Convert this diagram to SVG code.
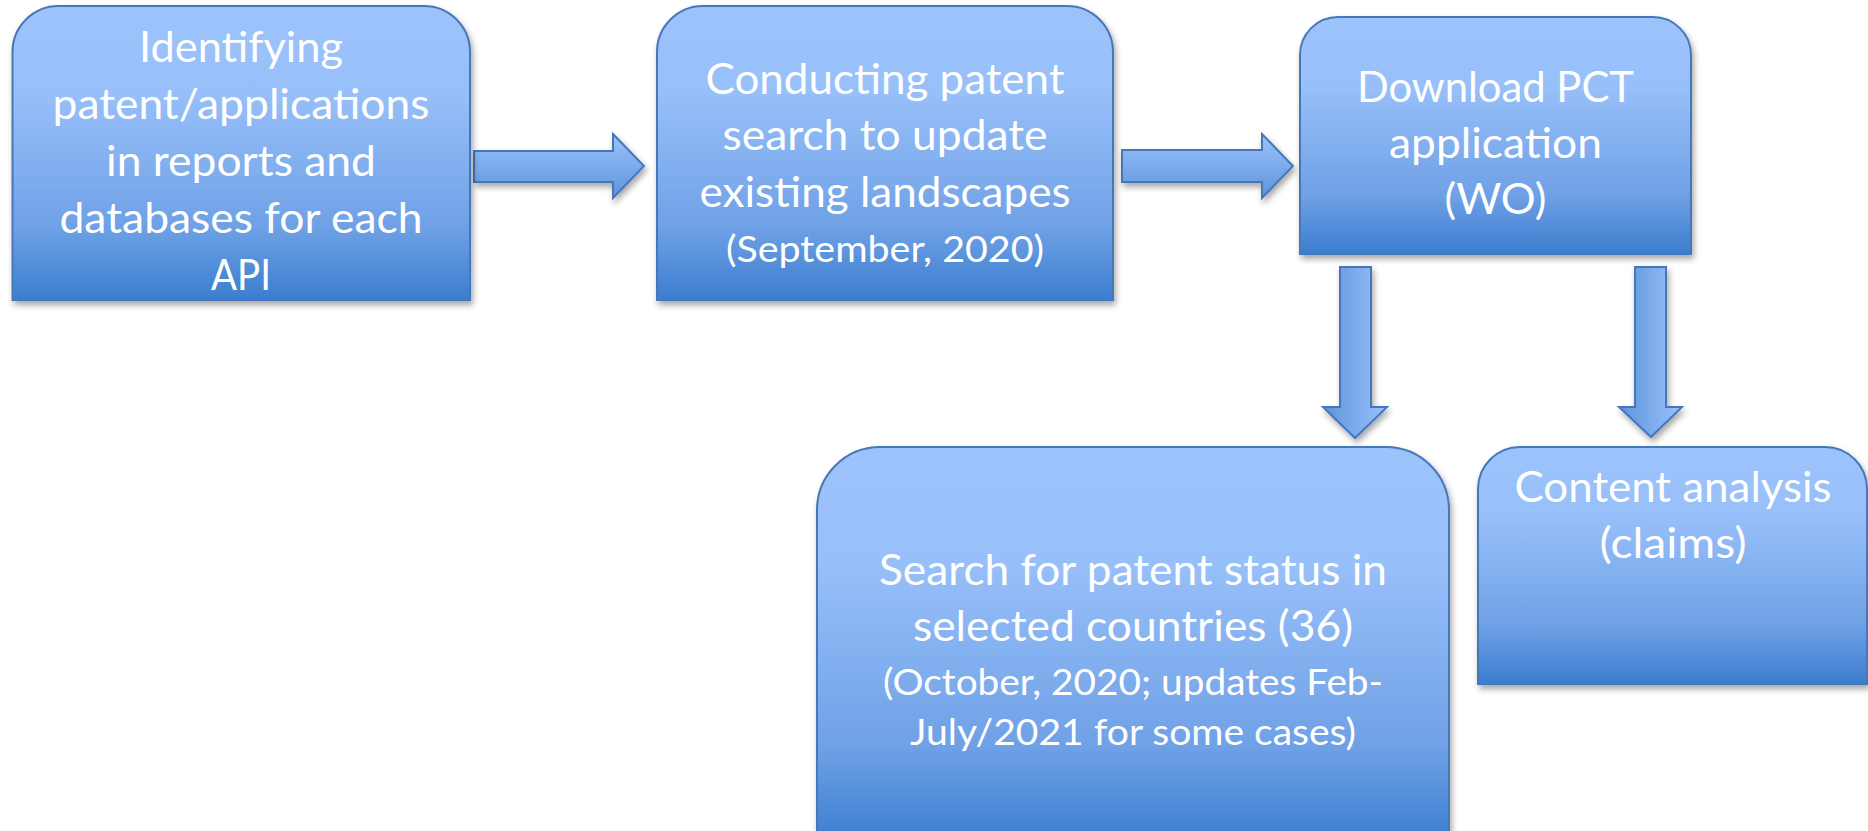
<svg xmlns="http://www.w3.org/2000/svg" width="1868" height="831" viewBox="0 0 1868 831">
  <defs>
    <linearGradient id="boxGrad" x1="0" y1="0" x2="0" y2="1">
      <stop offset="0" stop-color="#9dc3fc"/>
      <stop offset="0.3" stop-color="#97bff9"/>
      <stop offset="0.75" stop-color="#6fa1e6"/>
      <stop offset="1" stop-color="#3b7dce"/>
    </linearGradient>
    <linearGradient id="arrowH" x1="0" y1="0" x2="0" y2="1">
      <stop offset="0" stop-color="#9cc2fb"/>
      <stop offset="1" stop-color="#5d93db"/>
    </linearGradient>
    <linearGradient id="arrowV" x1="1" y1="0" x2="0" y2="0">
      <stop offset="0" stop-color="#9cc2fb"/>
      <stop offset="1" stop-color="#5d93db"/>
    </linearGradient>
    <filter id="shadow" x="-10%" y="-10%" width="130%" height="130%">
      <feDropShadow dx="2" dy="4" stdDeviation="3" flood-color="#000" flood-opacity="0.35"/>
    </filter>
  </defs>
  <style>
    .box { fill: url(#boxGrad); stroke: #4677b8; stroke-width: 2; filter: url(#shadow); }
    .arrH { fill: url(#arrowH); stroke: #4677b8; stroke-width: 2; stroke-linejoin: miter; filter: url(#shadow); }
    .arrV { fill: url(#arrowV); stroke: #4677b8; stroke-width: 2; stroke-linejoin: miter; filter: url(#shadow); }
    .t { font-family: Lato, "Open Sans", "Liberation Sans", sans-serif; font-size: 42px; fill: #ffffff; text-anchor: middle; }
    .s { font-family: Lato, "Open Sans", "Liberation Sans", sans-serif; font-size: 37.5px; fill: #ffffff; text-anchor: middle; }
  </style>
  <rect width="1868" height="831" fill="#ffffff"/>

  <g id="connectors">
    <path class="arrH" d="M474,151 H613 V134 L644,166 L613,198 V182 H474 Z"/>
    <path class="arrH" d="M1122,150 H1262 V134 L1293,166 L1262,198 V182 H1122 Z"/>
    <path class="arrV" d="M1340,267 H1371 V407 H1387 L1355,438 L1323,407 H1340 Z"/>
    <path class="arrV" d="M1635,267 H1666 V407 H1682 L1651,437 L1619,407 H1635 Z"/>
  </g>

  <g id="node-identifying">
    <path class="box" d="M12.5,300 V52 A46,46 0 0 1 58.5,6 H424 A46,46 0 0 1 470,52 V300 Z"/>
    <text class="t" x="241" y="62" textLength="204" lengthAdjust="spacingAndGlyphs">Identifying</text>
    <text class="t" x="241" y="119" textLength="377" lengthAdjust="spacingAndGlyphs">patent/applications</text>
    <text class="t" x="241" y="176" textLength="270" lengthAdjust="spacingAndGlyphs">in reports and</text>
    <text class="t" x="241" y="233" textLength="363" lengthAdjust="spacingAndGlyphs">databases for each</text>
    <text class="t" x="241" y="290" textLength="60" lengthAdjust="spacingAndGlyphs">API</text>
  </g>

  <g id="node-conducting">
    <path class="box" d="M657,300 V52 A46,46 0 0 1 703,6 H1067 A46,46 0 0 1 1113,52 V300 Z"/>
    <text class="t" x="885" y="94" textLength="359" lengthAdjust="spacingAndGlyphs">Conducting patent</text>
    <text class="t" x="885" y="150" textLength="325" lengthAdjust="spacingAndGlyphs">search to update</text>
    <text class="t" x="885" y="207" textLength="371" lengthAdjust="spacingAndGlyphs">existing landscapes</text>
    <text class="s" x="885" y="262" textLength="318" lengthAdjust="spacingAndGlyphs">(September, 2020)</text>
  </g>

  <g id="node-download">
    <path class="box" d="M1300,254 V55 A38,38 0 0 1 1338,17 H1653 A38,38 0 0 1 1691,55 V254 Z"/>
    <text class="t" x="1495.5" y="102" textLength="277" lengthAdjust="spacingAndGlyphs">Download PCT</text>
    <text class="t" x="1495.5" y="158" textLength="213" lengthAdjust="spacingAndGlyphs">application</text>
    <text class="t" x="1495.5" y="214" textLength="102" lengthAdjust="spacingAndGlyphs">(WO)</text>
  </g>

  <g id="node-search">
    <path class="box" d="M817,845 V510 A63,63 0 0 1 880,447 H1386 A63,63 0 0 1 1449,510 V845 Z"/>
    <text class="t" x="1133" y="585" textLength="508" lengthAdjust="spacingAndGlyphs">Search for patent status in</text>
    <text class="t" x="1133" y="641" textLength="440" lengthAdjust="spacingAndGlyphs">selected countries (36)</text>
    <text class="s" x="1133" y="695" textLength="500" lengthAdjust="spacingAndGlyphs">(October, 2020; updates Feb-</text>
    <text class="s" x="1133" y="745" textLength="446" lengthAdjust="spacingAndGlyphs">July/2021 for some cases)</text>
  </g>

  <g id="node-content">
    <path class="box" d="M1478,684 V489 A42,42 0 0 1 1520,447 H1825 A42,42 0 0 1 1867,489 V684 Z"/>
    <text class="t" x="1673" y="502" textLength="317" lengthAdjust="spacingAndGlyphs">Content analysis</text>
    <text class="t" x="1673" y="558" textLength="147" lengthAdjust="spacingAndGlyphs">(claims)</text>
  </g>
</svg>
